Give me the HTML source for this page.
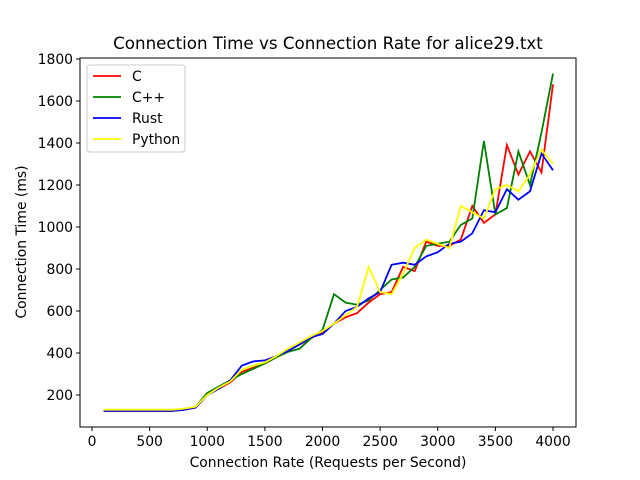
<!DOCTYPE html>
<html><head><meta charset="utf-8"><style>
body{margin:0;background:#fff;font-family:"DejaVu Sans","Liberation Sans",sans-serif}
svg{display:block}
</style></head><body>
<svg id="chart" width="640" height="480" xmlns="http://www.w3.org/2000/svg" font-family="DejaVu Sans, Liberation Sans, sans-serif">
<rect width="640" height="480" fill="#fff"/>
<text x="328" y="49" text-anchor="middle" font-size="16.7">Connection Time vs Connection Rate for alice29.txt</text>
<g id="grid"></g>
<g id="series"></g>
<rect x="80" y="58" width="496" height="369" fill="none" stroke="#000" stroke-width="1"/>
<g id="ticks" font-size="13.9"></g>
<text x="328" y="467" text-anchor="middle" font-size="13.9">Connection Rate (Requests per Second)</text>
<text transform="translate(26,242) rotate(-90)" text-anchor="middle" font-size="13.9">Connection Time (ms)</text>
<g id="legend"></g>
</svg>
<script>
const xs = [100,200,300,400,500,600,700,800,900,1000,1100,1200,1300,1400,1500,1600,1700,1800,1900,2000,2100,2200,2300,2400,2500,2600,2700,2800,2900,3000,3100,3200,3300,3400,3500,3600,3700,3800,3900,4000];
const cVals = [125,125,125,125,125,125,125,130,140,200,230,260,310,330,350,380,410,440,470,500,540,570,590,640,680,690,810,790,930,910,910,940,1100,1020,1060,1390,1250,1360,1260,1680];
const cppVals = [125,125,125,125,125,125,125,130,145,210,240,270,300,325,350,380,405,420,470,510,680,640,630,650,700,750,760,810,910,920,930,1010,1040,1410,1060,1090,1360,1200,1450,1730];
const rustVals = [125,125,125,125,125,125,125,130,140,200,230,270,340,360,365,385,410,440,475,490,540,600,620,660,690,820,830,820,860,880,920,930,970,1080,1070,1180,1130,1170,1350,1270];
const pyVals = [130,130,130,130,130,130,130,135,145,200,235,265,320,340,355,385,420,450,480,505,540,580,620,810,690,680,780,900,940,920,900,1100,1070,1040,1180,1200,1170,1250,1370,1300];
const seriesNames = ["C","C++","Rust","Python"];
const seriesColors = ["#ff0000","#008000","#0000ff","#ffff00"];
const xTicks = [0,500,1000,1500,2000,2500,3000,3500,4000];
const yTicks = [200,400,600,800,1000,1200,1400,1600,1800];
const NS="http://www.w3.org/2000/svg";
function X(v){return 92+v*(553-92)/4000;}
function Y(v){return 395-(v-200)*(395-59)/1600;}
const allSeries=[cVals,cppVals,rustVals,pyVals];
const sg=document.getElementById('series');
allSeries.forEach((vals,i)=>{
  const p=document.createElementNS(NS,'polyline');
  p.setAttribute('points',vals.map((v,j)=>X(xs[j]).toFixed(1)+','+Y(v).toFixed(1)).join(' '));
  p.setAttribute('fill','none');p.setAttribute('stroke',seriesColors[i]);p.setAttribute('stroke-width','1.8');
  
  
  sg.appendChild(p);
});
const tg=document.getElementById('ticks');
xTicks.forEach(t=>{
  const l=document.createElementNS(NS,'line');
  l.setAttribute('x1',X(t));l.setAttribute('x2',X(t));l.setAttribute('y1',427);l.setAttribute('y2',431);l.setAttribute('stroke','#000');
  
  
  tg.appendChild(l);
  const tx=document.createElementNS(NS,'text');
  tx.setAttribute('x',X(t));tx.setAttribute('y',446);tx.setAttribute('text-anchor','middle');tx.textContent=t;
  
  
  tg.appendChild(tx);
});
yTicks.forEach(t=>{
  const l=document.createElementNS(NS,'line');
  l.setAttribute('x1',76);l.setAttribute('x2',80);l.setAttribute('y1',Y(t));l.setAttribute('y2',Y(t));l.setAttribute('stroke','#000');
  
  
  tg.appendChild(l);
  const tx=document.createElementNS(NS,'text');
  tx.setAttribute('x',73);tx.setAttribute('y',Y(t)+5);tx.setAttribute('text-anchor','end');tx.textContent=t;
  
  
  tg.appendChild(tx);
});
const lg=document.getElementById('legend');
const box=document.createElementNS(NS,'rect');
box.setAttribute('x',87);box.setAttribute('y',65);box.setAttribute('width',98);box.setAttribute('height',87);box.setAttribute('rx',3);
box.setAttribute('fill','#fff');box.setAttribute('stroke','#ccc');


lg.appendChild(box);
seriesNames.forEach((n,i)=>{
  const y=76+i*21;
  const l=document.createElementNS(NS,'line');
  l.setAttribute('x1',93);l.setAttribute('x2',121);l.setAttribute('y1',y);l.setAttribute('y2',y);
  l.setAttribute('stroke',seriesColors[i]);l.setAttribute('stroke-width','1.8');
  
  
  lg.appendChild(l);
  const tx=document.createElementNS(NS,'text');
  tx.setAttribute('x',132);tx.setAttribute('y',y+5);tx.setAttribute('font-size','13.9');tx.textContent=n;
  
  
  lg.appendChild(tx);
});
</script>
</body></html>
